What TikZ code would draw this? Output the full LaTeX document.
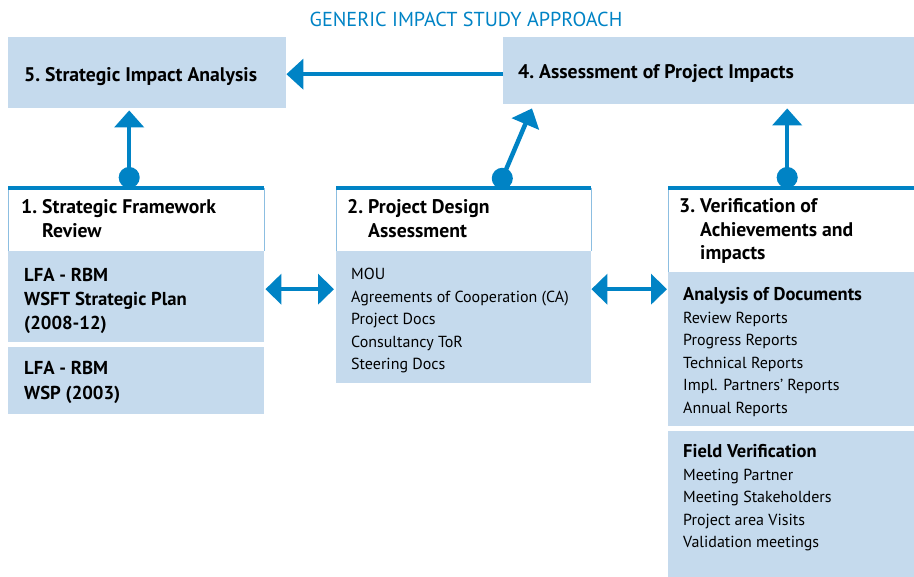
\documentclass[tikz,border=0pt]{standalone}
\usepackage{tikz}
\usepackage{fontspec}
\setmainfont{PT Sans}
\usetikzlibrary{arrows.meta,calc}
\usetikzlibrary{fit,positioning}

\definecolor{wsblue}{RGB}{0,131,197}
\definecolor{wspale}{RGB}{197,218,237}
\definecolor{wsedge}{RGB}{140,190,225}

% numbered heading with hanging indent
\newcommand{\numbered}[2]{\begin{tabular}[t]{@{}l@{\hspace{5pt}}l@{}}#1&#2\end{tabular}}
% lines of a panel, baseline on the first line
\newcommand{\panelrows}[1]{\begin{tabular}[t]{@{}l@{}}#1\end{tabular}}
\newcommand{\panelhead}[1]{{\fontsize{18.5}{22.5}\selectfont\bfseries #1}}

\tikzset{
	panel/.style={fill=wspale, inner sep=0pt, anchor=north west},
	head/.style={fill=white, inner sep=0pt, anchor=north west},
	txt/.style={anchor=base west, inner sep=0pt, font=\fontsize{16}{22.5}\selectfont},
	btxt/.style={anchor=base west, inner sep=0pt, font=\fontsize{19.7}{23.5}\selectfont\bfseries},
	link/.style={wsblue, line width=4.5pt, arrows={Circle[length=21pt]-Triangle[length=17pt,width=29pt]}},
	twoway/.style={wsblue, line width=4.5pt, arrows={Triangle[length=16pt,width=30pt]-Triangle[length=16pt,width=30pt]}}
}

\begin{document}
\begin{tikzpicture}[x=1pt,y=-1pt]
	\useasboundingbox (0,0) rectangle (914,577);

	%Title
	\node[font=\fontsize{20.2}{22}\selectfont, text=wsblue, inner sep=0pt] (title) at (466,19) {GENERIC IMPACT STUDY APPROACH};

	%Top row
	\node[panel, minimum width=278pt, minimum height=71pt] (box5) at (8,37) {};
	\node[panel, minimum width=411pt, minimum height=67pt] (box4) at (503,37) {};
	\node[btxt] (t5) at (24,82) {\numbered{5.}{Strategic Impact Analysis}};
	\node[btxt] (t4) at (518,79) {\numbered{4.}{Assessment of Project Impacts}};

	%Headings
	\node[head, minimum width=256pt, minimum height=63pt] (hdr1) at (8,188) {};
	\node[head, minimum width=255pt, minimum height=63pt] (hdr2) at (336,188) {};
	\node[head, minimum width=246pt, minimum height=84pt] (hdr3) at (668,188) {};
	\foreach \h in {hdr1,hdr2,hdr3}{
		\draw[wsedge, line width=1pt] (\h.south west) -- (\h.north west) (\h.north east) -- (\h.south east);
		\draw[wsblue, line width=4pt] (\h.north west) -- (\h.north east);
	}
	\node[btxt] (t1) at (21,214) {\numbered{1.}{Strategic Framework\\&Review}};
	\node[btxt] (t2) at (347,214) {\numbered{2.}{Project Design\\&Assessment}};
	\node[btxt] (t3) at (679,213) {\numbered{3.}{Verification of\\&Achievements and\\&impacts}};

	%Panels below the headings
	\node[panel, minimum width=256pt, minimum height=91pt] (c1a) at (8,251) {};
	\node[panel, minimum width=256pt, minimum height=67pt] (c1b) at (8,347) {};
	\node[panel, minimum width=255pt, minimum height=132pt] (c2) at (336,251) {};
	\node[panel, minimum width=246pt, minimum height=154pt] (c3a) at (668,272) {};
	\node[panel, minimum width=246pt, minimum height=146pt] (c3b) at (668,431) {};

	\node[btxt, font=\fontsize{18.7}{24}\selectfont\bfseries] (l1a) at (24,282) {\panelrows{LFA - RBM\\WSFT Strategic Plan\\(2008-12)}};
	\node[btxt, font=\fontsize{18.7}{25}\selectfont\bfseries] (l1b) at (24,375) {\panelrows{LFA - RBM\\WSP (2003)}};
	\node[txt] (l2) at (351,280) {\panelrows{MOU\\Agreements of Cooperation (CA)\\Project Docs\\Consultancy ToR\\Steering Docs}};
	\node[txt] (l3a) at (683,301) {\panelrows{\panelhead{Analysis of Documents}\\Review Reports\\Progress Reports\\Technical Reports\\Impl. Partners’ Reports\\Annual Reports}};
	\node[txt] (l3b) at (683,458) {\panelrows{\panelhead{Field Verification}\\Meeting Partner\\Meeting Stakeholders\\Project area Visits\\Validation meetings}};

	%Arrows up
	\draw[link, shorten >=2pt] ([xshift=-7pt]hdr1.north) -- ([xshift=-7pt]hdr1.north |- box5.south);
	\draw[link] ([xshift=34.5pt]hdr2.north) -- ([xshift=29pt,yshift=-4pt]box4.south west);
	\draw[link, shorten >=4pt] ([xshift=-4pt]hdr3.north) -- ([xshift=-4pt]hdr3.north |- box4.south);

	%Arrow across the top
	\draw[wsblue, line width=4.5pt, -{Triangle[length=17pt,width=30pt]}] ([yshift=-3.5pt]box4.west) -- ([yshift=-3.5pt]box4.west -| box5.east);

	%Arrows between the panels
	\draw[twoway, shorten <=1pt, shorten >=2pt] ([yshift=7.5pt]c1a.east) -- ([yshift=7.5pt]c1a.east -| c2.west);
	\draw[twoway, shorten >=1pt] ([yshift=28pt]c2.east) -- ([yshift=28pt]c2.east -| c3a.west);

\end{tikzpicture}
\end{document}
